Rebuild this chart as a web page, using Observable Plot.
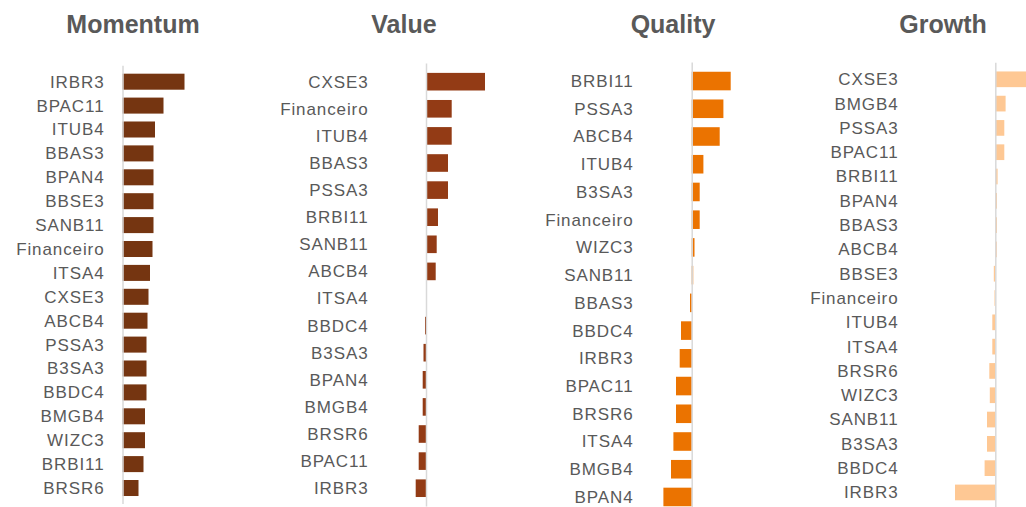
<!DOCTYPE html>
<html>
<head>
<meta charset="utf-8">
<script src="https://cdn.jsdelivr.net/npm/d3@7"></script>
<script src="https://cdn.jsdelivr.net/npm/@observablehq/plot@0.6"></script>
<style>
  html, body { margin: 0; padding: 0; background: #fff; overflow: hidden; width: 1026px; height: 507px; }
  #root { position: relative; width: 1026px; height: 507px; overflow: hidden; }
  .panel { position: absolute; top: 0; }
  .title { position: absolute; top: 9px; width: 200px; text-align: center; font: bold 25px "Liberation Sans", Arial, sans-serif; line-height: 30px; color: #595959; }
</style>
</head>
<body>
<div id="root"></div>
<script>
// ---- Data (arbitrary units) ----
const momentumNames = ["IRBR3","BPAC11","ITUB4","BBAS3","BPAN4","BBSE3","SANB11","Financeiro","ITSA4","CXSE3","ABCB4","PSSA3","B3SA3","BBDC4","BMGB4","WIZC3","BRBI11","BRSR6"];
const momentumValues = [6.2,4.1,3.25,3.1,3.1,3.1,3.1,3.0,2.75,2.6,2.5,2.4,2.4,2.4,2.25,2.25,2.1,1.6];

const valueNames = ["CXSE3","Financeiro","ITUB4","BBAS3","PSSA3","BRBI11","SANB11","ABCB4","ITSA4","BBDC4","B3SA3","BPAN4","BMGB4","BRSR6","BPAC11","IRBR3"];
const valueValues = [5.9,2.57,2.57,2.2,2.2,1.2,1.07,0.97,0.03,-0.1,-0.25,-0.33,-0.33,-0.73,-0.73,-1.03];

const qualityNames = ["BRBI11","PSSA3","ABCB4","ITUB4","B3SA3","Financeiro","WIZC3","SANB11","BBAS3","BBDC4","IRBR3","BPAC11","BRSR6","ITSA4","BMGB4","BPAN4"];
const qualityValues = [3.9,3.17,2.8,1.17,0.8,0.8,0.28,0.15,-0.17,-1.07,-1.2,-1.57,-1.57,-1.83,-2.07,-2.83];

const growthNames = ["CXSE3","BMGB4","PSSA3","BPAC11","BRBI11","BPAN4","BBAS3","ABCB4","BBSE3","Financeiro","ITUB4","ITSA4","BRSR6","WIZC3","SANB11","B3SA3","BBDC4","IRBR3"];
const growthValues = [3.6,1.03,0.9,0.9,0.23,0.17,0.17,0.15,-0.15,-0.08,-0.3,-0.3,-0.6,-0.55,-0.83,-0.83,-1.07,-4.03];

const titles = ["Momentum","Value","Quality","Growth"];

// ---- Layout per panel ----
const panels = [
  {title: titles[0], names: momentumNames, values: momentumValues, color: "#753511",
   left: 0, width: 260, height: 507, mt: 65.8, mb: 3.1, ml: 112, domain: [-1.05, 13.75], pad: 0.33, tcx: 133},
  {title: titles[1], names: valueNames, values: valueValues, color: "#933b15",
   left: 260, width: 250, height: 507, mt: 63.4, mb: 0.5, ml: 116, domain: [-5.0, 8.4], pad: 0.35, tcx: 404},
  {title: titles[2], names: qualityNames, values: qualityValues, color: "#eb7300",
   left: 510, width: 260, height: 516, mt: 62.6, mb: 0.6, ml: 131, domain: [-5.07, 7.83], pad: 0.33, tcx: 673},
  {title: titles[3], names: growthNames, values: growthValues, color: "#fec894",
   left: 770, width: 256, height: 509, mt: 62.85, mb: 0.1, ml: 136, domain: [-8.93, 3.07], pad: 0.354, tcx: 943}
];

const root = document.getElementById("root");

for (const p of panels) {
  const data = p.names.map((n, i) => ({name: n, value: p.values[i]}));
  const chart = Plot.plot({
    width: p.width,
    height: p.height,
    marginTop: p.mt,
    marginBottom: p.mb,
    marginLeft: p.ml,
    marginRight: 0,
    style: {fontFamily: "'Liberation Sans', Arial, sans-serif", fontSize: "17px", color: "#595959", background: "transparent", overflow: "visible", letterSpacing: "0.9px"},
    x: {domain: p.domain, axis: null},
    y: {domain: p.names, padding: p.pad, round: false, label: null, tickSize: 0, tickPadding: 8},
    marks: [
      Plot.barX(data, {y: "name", x: "value", fill: p.color}),
      Plot.ruleX([0], {stroke: "#d9d9d9", strokeWidth: 1.5})
    ]
  });
  const wrap = document.createElement("div");
  wrap.className = "panel";
  wrap.style.left = p.left + "px";
  wrap.appendChild(chart);
  root.appendChild(wrap);

  const t = document.createElement("div");
  t.className = "title";
  t.style.left = (p.tcx - 100) + "px";
  t.textContent = p.title;
  root.appendChild(t);
}
</script>
</body>
</html>
